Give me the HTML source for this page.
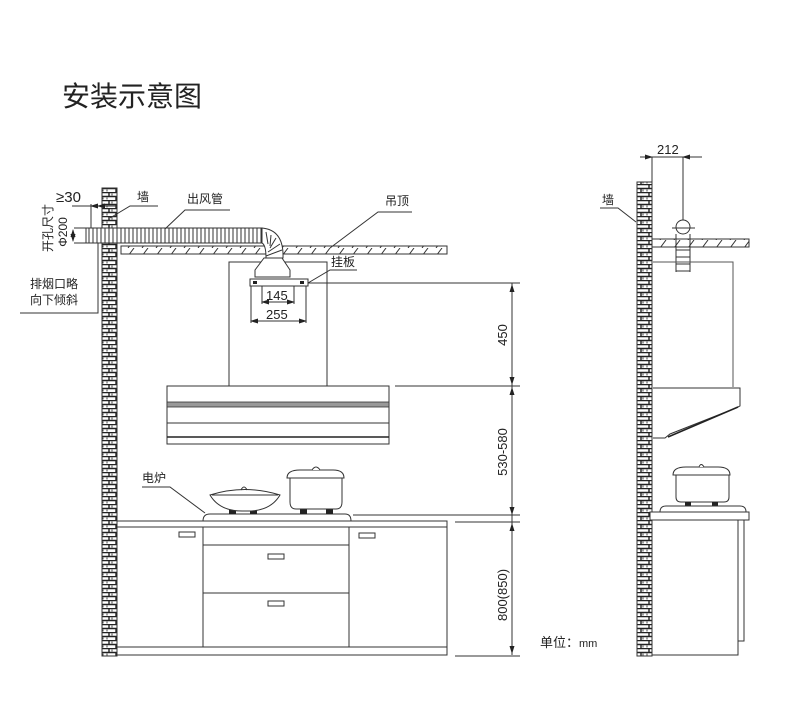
<!DOCTYPE html>
<html><head><meta charset="utf-8"><style>
html,body{margin:0;padding:0;background:#fff;}
svg{display:block;}
text{font-family:"Liberation Sans","Noto Sans CJK SC",sans-serif;fill:#222;}
</style></head><body>
<svg width="790" height="723" viewBox="0 0 790 723" xmlns="http://www.w3.org/2000/svg">
<defs>
<pattern id="brick" width="15" height="8" patternUnits="userSpaceOnUse">
<rect width="15" height="8" fill="#fff"/>
<path d="M0 0.5H15M0 4.5H15M4 0.5V4.5M11 4.5V8.5" stroke="#222" stroke-width="1.4" fill="none"/>
<path d="M7 1.5v2M2 5.5v2M13 5.5v2" stroke="#444" stroke-width="1"/>
</pattern>
<pattern id="hatch" width="14" height="8" patternUnits="userSpaceOnUse">
<path d="M2 8L8 0" stroke="#333" stroke-width="1"/>
</pattern>
<pattern id="rib" width="4" height="20" patternUnits="userSpaceOnUse">
<rect width="4" height="20" fill="#fff"/><path d="M1 0V20" stroke="#333" stroke-width="1"/>
</pattern>
<marker id="ar" markerWidth="8" markerHeight="8" refX="7" refY="4" orient="auto-start-reverse" markerUnits="userSpaceOnUse"><path d="M0 1.5L8 4L0 6.5z" fill="#222"/></marker>
</defs>

<text x="62" y="106" font-size="28">安装示意图</text>

<!-- left wall -->
<rect x="102" y="188" width="15" height="468" fill="url(#brick)" stroke="#333" stroke-width="1"/>
<!-- ceiling -->
<rect x="121" y="246" width="326" height="8" fill="url(#hatch)" stroke="#333" stroke-width="1"/>
<!-- duct -->
<rect x="86" y="228" width="176" height="15" fill="url(#rib)" stroke="#333" stroke-width="1"/>
<path d="M262 228 Q284 230 283 258 L266 258 Q266 245 262 243 Z" fill="#fff" stroke="#333"/>
<path d="M266 232L268 244M271 235L270 246M276 238L270 248M280 244L268 252M282 250L266 256" stroke="#333" stroke-width="1"/>

<!-- hood upper -->
<rect x="229" y="262" width="98" height="124" fill="none" stroke="#333" stroke-width="1"/>
<path d="M264 258H282L290 270V277H255V270Z" fill="#fff" stroke="#333"/>
<rect x="250" y="279" width="58" height="7" fill="#fff" stroke="#333"/>
<rect x="253" y="281" width="4" height="3" fill="#222"/><rect x="300" y="281" width="4" height="3" fill="#222"/>
<line x1="308" y1="283" x2="520" y2="283" stroke="#333"/>
<!-- 145 / 255 -->
<line x1="262" y1="286" x2="262" y2="304" stroke="#333"/><line x1="294" y1="286" x2="294" y2="304" stroke="#333"/>
<line x1="262" y1="302" x2="294" y2="302" stroke="#333" marker-start="url(#ar)" marker-end="url(#ar)"/>
<text x="266" y="300" font-size="13">145</text>
<line x1="251" y1="286" x2="251" y2="323" stroke="#333"/><line x1="306" y1="286" x2="306" y2="323" stroke="#333"/>
<line x1="251" y1="321" x2="306" y2="321" stroke="#333" marker-start="url(#ar)" marker-end="url(#ar)"/>
<text x="266" y="319" font-size="13">255</text>

<!-- hood lower -->
<rect x="167" y="386" width="222" height="58" fill="#fff" stroke="#333"/>
<rect x="167" y="402" width="222" height="5" fill="#999" stroke="#333" stroke-width="0.8"/>
<line x1="167" y1="423" x2="389" y2="423" stroke="#333"/>
<line x1="167" y1="437" x2="389" y2="437" stroke="#222" stroke-width="1.5"/>

<!-- dimension right -->
<line x1="512" y1="283" x2="512" y2="655" stroke="#333"/>
<line x1="512" y1="285" x2="512" y2="384" stroke="#333" marker-start="url(#ar)" marker-end="url(#ar)"/>
<line x1="512" y1="388" x2="512" y2="514" stroke="#333" marker-start="url(#ar)" marker-end="url(#ar)"/>
<line x1="512" y1="524" x2="512" y2="653" stroke="#333" marker-start="url(#ar)" marker-end="url(#ar)"/>
<line x1="395" y1="386" x2="520" y2="386" stroke="#333"/>
<line x1="353" y1="515" x2="520" y2="515" stroke="#333"/>
<line x1="455" y1="522" x2="520" y2="522" stroke="#333"/>
<line x1="455" y1="656" x2="520" y2="656" stroke="#333"/>
<text transform="translate(507,335) rotate(-90)" font-size="13" text-anchor="middle">450</text>
<text transform="translate(507,452) rotate(-90)" font-size="13" text-anchor="middle">530-580</text>
<text transform="translate(507,595) rotate(-90)" font-size="13" text-anchor="middle">800(850)</text>

<!-- counter / cabinet -->
<rect x="117" y="521" width="330" height="6" fill="#fff" stroke="#333"/>
<rect x="117" y="527" width="330" height="120" fill="none" stroke="#333"/>
<rect x="117" y="647" width="330" height="8" fill="none" stroke="#333"/>
<line x1="203" y1="527" x2="203" y2="647" stroke="#333"/>
<line x1="349" y1="527" x2="349" y2="647" stroke="#333"/>
<line x1="203" y1="545" x2="349" y2="545" stroke="#333"/>
<line x1="203" y1="593" x2="349" y2="593" stroke="#333"/>
<rect x="179" y="532" width="16" height="5" fill="none" stroke="#333"/>
<rect x="359" y="533" width="16" height="5" fill="none" stroke="#333"/>
<rect x="268" y="554" width="16" height="5" fill="none" stroke="#333"/>
<rect x="268" y="601" width="16" height="5" fill="none" stroke="#333"/>
<!-- cooktop -->
<path d="M203 521 Q203 514 210 514 H345 Q351 514 351 521Z" fill="#fff" stroke="#333"/>
<rect x="229" y="509" width="7" height="5" fill="#222"/><rect x="250" y="509" width="7" height="5" fill="#222"/>
<rect x="300" y="509" width="7" height="5" fill="#222"/><rect x="326" y="509" width="7" height="5" fill="#222"/>
<!-- wok -->
<path d="M210 495 Q245 484 280 495 Q270 512 245 511 Q220 512 210 495Z" fill="#fff" stroke="#333"/>
<line x1="212" y1="495" x2="278" y2="495" stroke="#333"/>
<path d="M241 490 Q244 484 247 490" fill="none" stroke="#333"/>
<!-- pot -->
<path d="M290 477 H342 V502 Q342 509 336 509 H296 Q290 509 290 502Z" fill="#fff" stroke="#333"/>
<path d="M287 478 Q287 470 300 470 H333 Q344 470 344 478Z" fill="#fff" stroke="#333"/>
<path d="M312 470 Q316 464 320 470" fill="#fff" stroke="#333"/>
<!-- labels -->
<text x="142" y="482" font-size="12">电炉</text>
<path d="M142 487H170L205 513" fill="none" stroke="#333"/>
<text x="540" y="647" font-size="13">单位：<tspan font-size="11">mm</tspan></text>

<!-- top labels left -->
<text x="56" y="202" font-size="15">≥30</text>
<line x1="72" y1="206" x2="117" y2="206" stroke="#333"/>
<line x1="91" y1="204" x2="91" y2="228" stroke="#333"/>
<line x1="95" y1="206" x2="91" y2="206" stroke="#333" marker-end="url(#ar)"/>
<line x1="98" y1="206" x2="102" y2="206" stroke="#333" marker-start="url(#ar)"/>
<text x="137" y="201" font-size="12">墙</text>
<path d="M158 206H130L110 218" fill="none" stroke="#333"/>
<text x="187" y="203" font-size="12">出风管</text>
<path d="M230 210H185L165 229" fill="none" stroke="#333"/>
<text x="385" y="205" font-size="12">吊顶</text>
<path d="M412 212H378L330 248" fill="none" stroke="#333"/>
<text x="331" y="266" font-size="12">挂板</text>
<path d="M357 270H330L308 283" fill="none" stroke="#333"/>
<text transform="translate(52,228) rotate(-90)" font-size="12" text-anchor="middle">开孔尺寸</text>
<text transform="translate(67,232) rotate(-90)" font-size="12" text-anchor="middle">Φ200</text>
<line x1="74" y1="228" x2="86" y2="228" stroke="#333"/><line x1="74" y1="243" x2="86" y2="243" stroke="#333"/>
<line x1="73" y1="230" x2="73" y2="241" stroke="#333" marker-start="url(#ar)" marker-end="url(#ar)"/>
<text x="30" y="288" font-size="12">排烟口略</text>
<text x="30" y="304" font-size="12">向下倾斜</text>
<path d="M20 313H98V243" fill="none" stroke="#333"/>

<!-- right side view -->
<rect x="637" y="182" width="15" height="474" fill="url(#brick)" stroke="#333"/>
<rect x="652" y="239" width="97" height="8" fill="url(#hatch)" stroke="#333"/>
<line x1="640" y1="157" x2="702" y2="157" stroke="#333"/>
<line x1="652" y1="157" x2="652" y2="182" stroke="#333"/>
<line x1="683" y1="157" x2="683" y2="226" stroke="#333"/>
<line x1="644" y1="157" x2="652" y2="157" stroke="#333" marker-end="url(#ar)"/>
<line x1="683" y1="157" x2="691" y2="157" stroke="#333" marker-start="url(#ar)"/>
<text x="657" y="154" font-size="13">212</text>
<text x="602" y="204" font-size="12">墙</text>
<path d="M600 208H618L636 222" fill="none" stroke="#333"/>
<circle cx="683" cy="227" r="7" fill="#fff" stroke="#333"/>
<line x1="672" y1="228" x2="695" y2="228" stroke="#333"/>
<path d="M676 234V272M690 234V272M676 250H690M676 257H690M676 264H690M676 271H690" stroke="#333" fill="none"/>
<path d="M653 262H733V387" fill="none" stroke="#555"/>
<path d="M653 388H740V406L736 408L670 434L665 438H653" fill="none" stroke="#333"/>
<path d="M668 437L738 407" stroke="#222" stroke-width="1.5"/>
<!-- pot right -->
<path d="M676 473H729V497Q729 502 724 502H681Q676 502 676 497Z" fill="#fff" stroke="#333"/>
<path d="M673 475Q673 467 686 467H718Q730 467 730 475Z" fill="#fff" stroke="#333"/>
<path d="M699 467Q701 462 704 467" fill="#fff" stroke="#333"/>
<rect x="685" y="502" width="6" height="4" fill="#222"/><rect x="712" y="502" width="6" height="4" fill="#222"/>
<path d="M660 512Q660 506 666 506H740Q746 506 746 512Z" fill="#fff" stroke="#333"/>
<rect x="650" y="512" width="99" height="8" fill="#fff" stroke="#333"/>
<path d="M652 520V655H738V520" fill="none" stroke="#333"/>
<path d="M744 520V641H738" fill="none" stroke="#333"/>
</svg>
</body></html>
